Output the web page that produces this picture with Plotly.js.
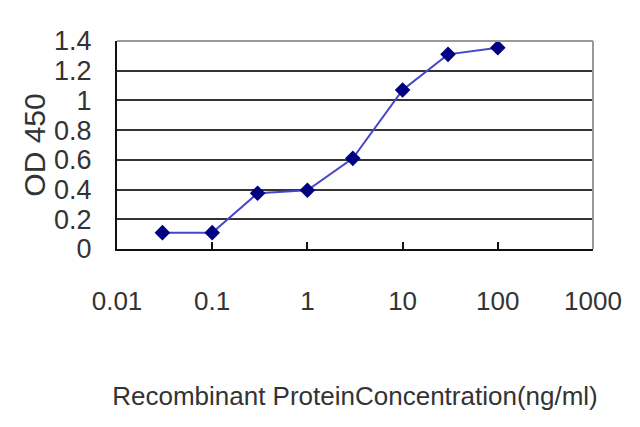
<!DOCTYPE html>
<html>
<head>
<meta charset="utf-8">
<script src="https://cdn.plot.ly/plotly-3.0.1.min.js"></script>
<style>html,body{margin:0;padding:0;background:#fff;}#chart{width:640px;height:427px;}</style>
</head>
<body>
<div id="chart"></div>
<script>
const concentration = [0.03, 0.1, 0.3, 1, 3, 10, 30, 100];
const od450 = [0.11, 0.11, 0.375, 0.395, 0.61, 1.07, 1.31, 1.355];
const xTickVals = [0.01, 0.1, 1, 10, 100, 1000];
const xTickText = ['0.01', '0.1', '1', '10', '100', '1000'];
const yTickVals = [0, 0.2, 0.4, 0.6, 0.8, 1, 1.2, 1.4];
const yTickText = ['0', '0.2', '0.4', '0.6', '0.8', '1', '1.2', '1.4'];
const xTitle = 'Recombinant ProteinConcentration(ng/ml)';
const yTitle = 'OD 450';

const font = 'Liberation Sans Narrow, Liberation Sans, Arial, sans-serif';
const trace = {
  x: concentration, y: od450, type: 'scatter', mode: 'lines+markers',
  line: {color: '#4646cc', width: 2},
  marker: {symbol: 'diamond', size: 12, color: '#000080'}
};
const layout = {
  width: 640, height: 427,
  margin: {l: 117, r: 47, t: 41, b: 178},
  paper_bgcolor: '#fff', plot_bgcolor: '#fff',
  showlegend: false,
  font: {family: font, color: '#333', size: 26},
  xaxis: {
    type: 'log', range: [-2, 3],
    tickvals: xTickVals, ticktext: xTickText,
    showgrid: false, zeroline: false,
    showline: true, linecolor: '#111', linewidth: 2,
    ticks: 'inside', ticklen: 7, tickwidth: 2, tickcolor: '#111',
    ticklabelstandoff: 28,
    tickfont: {size: 26, family: font, color: '#333'},
    title: {text: xTitle, font: {size: 26, family: font, color: '#333'}, standoff: 72}
  },
  yaxis: {
    range: [0, 1.4],
    tickvals: yTickVals, ticktext: yTickText,
    showgrid: true, gridcolor: '#333', gridwidth: 2,
    zeroline: false,
    showline: true, linecolor: '#111', linewidth: 2,
    ticks: '', ticklabelstandoff: 18,
    tickfont: {size: 27, family: font, color: '#333'},
    title: {text: yTitle, font: {size: 30, family: font, color: '#333'}, standoff: 0}
  },
  shapes: [
    {type: 'line', xref: 'paper', yref: 'paper', x0: 0, x1: 1, y0: 1, y1: 1, line: {color: '#999', width: 2}},
    {type: 'line', xref: 'paper', yref: 'paper', x0: 1, x1: 1, y0: 0, y1: 1, line: {color: '#999', width: 2}}
  ]
};
Plotly.newPlot('chart', [trace], layout, {displayModeBar: false, staticPlot: true});
</script>
</body>
</html>
